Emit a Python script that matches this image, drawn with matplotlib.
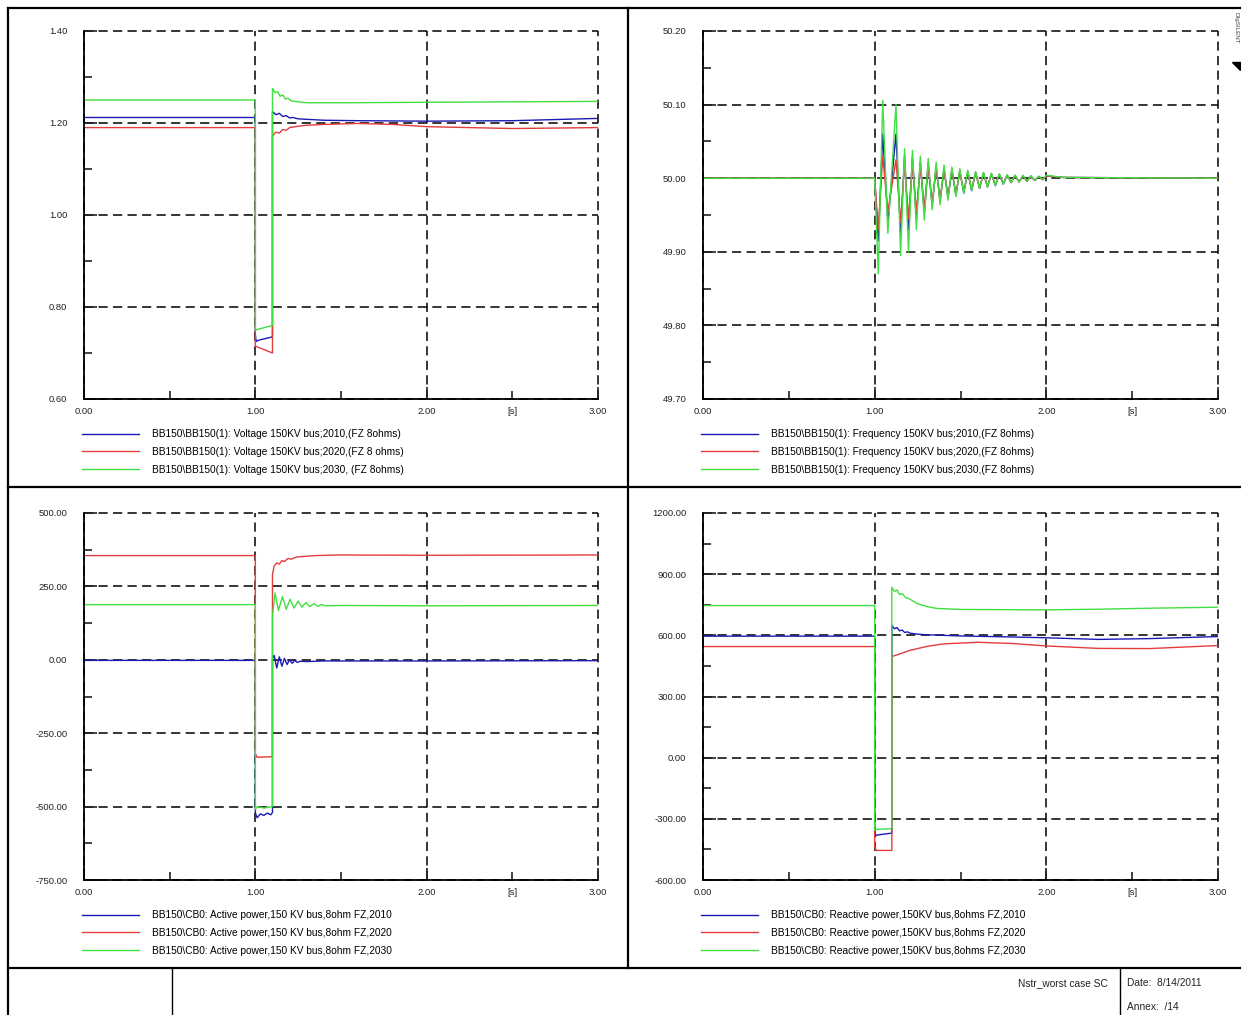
import matplotlib
matplotlib.use('Agg')
import matplotlib.pyplot as plt
from matplotlib.lines import Line2D
from matplotlib.patches import Polygon
from matplotlib.ticker import MultipleLocator, FixedLocator, FuncFormatter

plt.rcParams['font.family'] = ['Liberation Sans', 'DejaVu Sans']

# ---- data (time in s) ----
# voltage 150 kV bus [p.u.]
v10_t = [0, 1.0, 1.0, 1.005, 1.02, 1.10, 1.10, 1.12, 1.14, 1.16, 1.18, 1.20, 1.22, 1.25, 1.3, 1.4, 1.6, 2.0, 2.5, 3.0]
v10_v = [1.212, 1.212, 0.74, 0.725, 0.728, 0.735, 1.225, 1.218, 1.221, 1.214, 1.216, 1.211, 1.212, 1.209, 1.208, 1.206, 1.205, 1.204, 1.205, 1.21]
v20_t = [0, 1.0, 1.0, 1.10, 1.10, 1.12, 1.14, 1.16, 1.18, 1.20, 1.25, 1.3, 1.4, 1.5, 1.6, 1.8, 2.0, 2.5, 3.0]
v20_v = [1.19, 1.19, 0.715, 0.70, 1.172, 1.180, 1.178, 1.186, 1.184, 1.190, 1.193, 1.195, 1.197, 1.198, 1.199, 1.197, 1.192, 1.188, 1.19]
v30_t = [0, 1.0, 1.0, 1.10, 1.10, 1.115, 1.13, 1.145, 1.16, 1.175, 1.19, 1.21, 1.25, 1.3, 1.5, 2.0, 2.5, 3.0]
v30_v = [1.25, 1.25, 0.75, 0.76, 1.275, 1.266, 1.268, 1.258, 1.261, 1.252, 1.254, 1.248, 1.246, 1.244, 1.244, 1.245, 1.246, 1.247]

# frequency 150 kV bus [Hz], shared sample times (peaks / troughs)
f_t = [0.0, 1.0, 1.021, 1.047, 1.077, 1.124, 1.151, 1.174, 1.197, 1.220, 1.243, 1.266, 1.289, 1.312,
       1.335, 1.358, 1.381, 1.404, 1.427, 1.450, 1.473, 1.496, 1.519, 1.542, 1.565, 1.588, 1.611,
       1.634, 1.657, 1.680, 1.703, 1.726, 1.749, 1.772, 1.795, 1.818, 1.841, 1.864, 1.887, 1.910,
       1.933, 1.956, 1.979, 2.0, 2.1, 3.0]
f10_v = [50.0, 50.0, 49.915, 50.06, 49.94, 50.06, 49.925, 50.03, 49.93, 50.028, 49.945, 50.022, 49.952,
         50.02, 49.962, 50.016, 49.968, 50.013, 49.973, 50.011, 49.977, 50.01, 49.98, 50.009, 49.983,
         50.008, 49.986, 50.007, 49.988, 50.006, 49.99, 50.005, 49.992, 50.004, 49.994, 50.004, 49.995,
         50.003, 49.996, 50.003, 49.997, 50.002, 49.998, 50.003, 50.001, 50.0]
f20_v = [50.0, 50.0, 49.93, 50.03, 49.955, 50.025, 49.94, 50.02, 49.945, 50.02, 49.955, 50.017, 49.96,
         50.015, 49.967, 50.013, 49.972, 50.011, 49.976, 50.01, 49.979, 50.009, 49.982, 50.008, 49.985,
         50.007, 49.987, 50.006, 49.989, 50.005, 49.991, 50.005, 49.993, 50.004, 49.994, 50.003, 49.995,
         50.003, 49.996, 50.002, 49.997, 50.002, 49.998, 50.003, 50.001, 50.0]
f30_v = [50.0, 50.0, 49.87, 50.106, 49.925, 50.10, 49.895, 50.04, 49.90, 50.038, 49.93, 50.03, 49.943,
         50.027, 49.957, 50.022, 49.964, 50.018, 49.97, 50.015, 49.975, 50.013, 49.979, 50.011, 49.983,
         50.009, 49.986, 50.008, 49.988, 50.007, 49.99, 50.006, 49.992, 50.005, 49.994, 50.004, 49.995,
         50.004, 49.996, 50.003, 49.997, 50.003, 49.998, 50.004, 50.001, 50.0]

# active power [MW]
p10_t = [0, 1.0, 1.0, 1.01, 1.03, 1.05, 1.07, 1.09, 1.10, 1.10, 1.11, 1.125, 1.14, 1.155, 1.17, 1.185,
         1.20, 1.215, 1.23, 1.245, 1.26, 1.30, 1.40, 2.0, 3.0]
p10_v = [-2, -2, -520, -538, -525, -530, -522, -528, -520, 5, 15, -28, 10, -22, 5, -16, 0, -12, -2, -9,
         -5, -6, -4, -4, -3]
p20_t = [0, 1.0, 1.0, 1.01, 1.10, 1.10, 1.11, 1.125, 1.14, 1.155, 1.17, 1.19, 1.21, 1.24, 1.28, 1.35,
         1.5, 2.0, 3.0]
p20_v = [355, 355, -320, -332, -330, 290, 320, 330, 326, 338, 335, 345, 343, 350, 352, 355, 357, 356, 357]
p30_t = [0, 1.0, 1.0, 1.01, 1.05, 1.10, 1.10, 1.115, 1.135, 1.158, 1.18, 1.203, 1.226, 1.249, 1.272,
         1.295, 1.318, 1.341, 1.364, 1.387, 1.41, 1.5, 2.0, 3.0]
p30_v = [188, 188, -510, -500, -505, -500, 150, 228, 168, 215, 172, 206, 176, 200, 179, 195, 181, 191,
         182, 188, 184, 185, 184, 185]

# reactive power [Mvar]
q10_t = [0, 1.0, 1.0, 1.01, 1.10, 1.10, 1.115, 1.13, 1.145, 1.16, 1.175, 1.19, 1.21, 1.25, 1.3, 1.5,
         1.8, 2.0, 2.3, 2.6, 3.0]
q10_v = [596, 596, -390, -380, -370, 648, 632, 638, 622, 626, 614, 617, 610, 606, 603, 597, 592, 588,
         580, 584, 594]
q20_t = [0, 1.0, 1.0, 1.01, 1.10, 1.10, 1.15, 1.2, 1.3, 1.4, 1.6, 1.8, 2.0, 2.3, 2.6, 3.0]
q20_v = [545, 545, -440, -455, -455, 496, 510, 525, 545, 558, 566, 560, 548, 536, 535, 550]
q30_t = [0, 1.0, 1.0, 1.01, 1.10, 1.10, 1.115, 1.13, 1.145, 1.16, 1.18, 1.2, 1.25, 1.3, 1.36, 1.5,
         2.0, 2.3, 2.6, 3.0]
q30_v = [746, 746, -356, -352, -348, 836, 815, 822, 800, 805, 785, 780, 755, 742, 732, 727, 725, 728,
         733, 738]

volt_labels = ['BB150\\BB150(1): Voltage 150KV bus;2010,(FZ 8ohms)',
               'BB150\\BB150(1): Voltage 150KV bus;2020,(FZ 8 ohms)',
               'BB150\\BB150(1): Voltage 150KV bus;2030, (FZ 8ohms)']
freq_labels = ['BB150\\BB150(1): Frequency 150KV bus;2010,(FZ 8ohms)',
               'BB150\\BB150(1): Frequency 150KV bus;2020,(FZ 8ohms)',
               'BB150\\BB150(1): Frequency 150KV bus;2030,(FZ 8ohms)']
pact_labels = ['BB150\\CB0: Active power,150 KV bus,8ohm FZ,2010',
               'BB150\\CB0: Active power,150 KV bus,8ohm FZ,2020',
               'BB150\\CB0: Active power,150 KV bus,8ohm FZ,2030']
qreact_labels = ['BB150\\CB0: Reactive power,150KV bus,8ohms FZ,2010',
                 'BB150\\CB0: Reactive power,150KV bus,8ohms FZ,2020',
                 'BB150\\CB0: Reactive power,150KV bus,8ohms FZ,2030']

colors = ['#1a1ab4', '#e23c3c', '#40e040']

W, H = 1241, 1015
fig = plt.figure(figsize=(W / 100, H / 100), dpi=100)


def box(x0, y0, x1, y1):
    return [x0 / W, 1 - y1 / H, (x1 - x0) / W, (y1 - y0) / H]


def make_panel(rect, series, labels, ylim, ystep, fmt):
    ax = fig.add_axes(rect)
    for (t, v), lab, c in zip(series, labels, colors):
        ax.plot(t, v, color=c, lw=1.0, label=lab)
    ax.set_xlim(0, 3)
    ax.set_ylim(*ylim)
    ax.xaxis.set_major_locator(MultipleLocator(1.0))
    ax.xaxis.set_minor_locator(FixedLocator([0.5, 1.5, 2.5]))
    ax.xaxis.set_major_formatter(FuncFormatter(lambda x, p: f'{x:.2f}'))
    ax.xaxis.set_minor_formatter(FuncFormatter(lambda x, p: '[s]' if abs(x - 2.5) < 1e-6 else ''))
    ax.yaxis.set_major_locator(MultipleLocator(ystep))
    ax.yaxis.set_minor_locator(MultipleLocator(ystep / 2))
    ax.yaxis.set_major_formatter(FuncFormatter(lambda y, p: fmt.format(y)))
    for s in ['top', 'right']:
        ax.spines[s].set_visible(False)
    for s in ['left', 'bottom']:
        ax.spines[s].set_linewidth(1.3)
    ax.tick_params(which='both', direction='in', width=1.2, labelsize=6.8,
                   colors='#222222', top=False, right=False)
    ax.tick_params(which='major', length=9)
    ax.tick_params(which='minor', length=6)
    ax.tick_params(axis='y', which='both', pad=12)
    ax.tick_params(axis='x', which='both', pad=6)
    ax.grid(True, which='major', color='black', lw=1.1, linestyle=(0, (6, 3.5)))
    for gl in ax.get_xgridlines() + ax.get_ygridlines():
        gl.set_clip_on(False)
    ax.set_axisbelow(True)
    ax.legend(loc='upper left', bbox_to_anchor=(-0.004, -0.082), frameon=False,
              fontsize=7.3, handlelength=5.6, handletextpad=1.3, labelspacing=0.76,
              borderpad=0, borderaxespad=0)
    return ax


make_panel(box(84, 31, 598, 399), [(v10_t, v10_v), (v20_t, v20_v), (v30_t, v30_v)],
           volt_labels, (0.6, 1.4), 0.2, '{:.2f}')
make_panel(box(703, 31, 1218, 399), [(f_t, f10_v), (f_t, f20_v), (f_t, f30_v)],
           freq_labels, (49.7, 50.2), 0.1, '{:.2f}')
make_panel(box(84, 513, 598, 880), [(p10_t, p10_v), (p20_t, p20_v), (p30_t, p30_v)],
           pact_labels, (-750, 500), 250, '{:.2f}')
make_panel(box(703, 513, 1218, 880), [(q10_t, q10_v), (q20_t, q20_v), (q30_t, q30_v)],
           qreact_labels, (-600, 1200), 300, '{:.2f}')


# page frame
def fline(x0, y0, x1, y1, lw=1.6):
    fig.add_artist(Line2D([x0 / W, x1 / W], [1 - y0 / H, 1 - y1 / H], color='black', lw=lw,
                          transform=fig.transFigure))


fline(8, 8, W, 8)
fline(8, 8, 8, H)
fline(628, 8, 628, 968)
fline(8, 487, W, 487)
fline(8, 968, W, 968)
fline(172, 968, 172, H, lw=1.0)
fline(1120, 968, 1120, H, lw=1.0)

fig.text(1108 / W, 1 - 983 / H, 'Nstr_worst case SC', fontsize=7.3, ha='right', va='center', color='#222222')
fig.text(1127 / W, 1 - 983 / H, 'Date:  8/14/2011', fontsize=7.3, ha='left', va='center', color='#222222')
fig.text(1127 / W, 1 - 1007 / H, 'Annex:  /14', fontsize=7.3, ha='left', va='center', color='#222222')
fig.text(1236 / W, 1 - 12 / H, 'DIgSILENT', fontsize=4.5, rotation=270, ha='center', va='top', color='#444444')
fig.add_artist(Polygon([[1232 / W, 1 - 62 / H], [1240 / W, 1 - 62 / H], [1240 / W, 1 - 70 / H]],
                       closed=True, color='black', transform=fig.transFigure))

fig.savefig('out.png', dpi=100)
